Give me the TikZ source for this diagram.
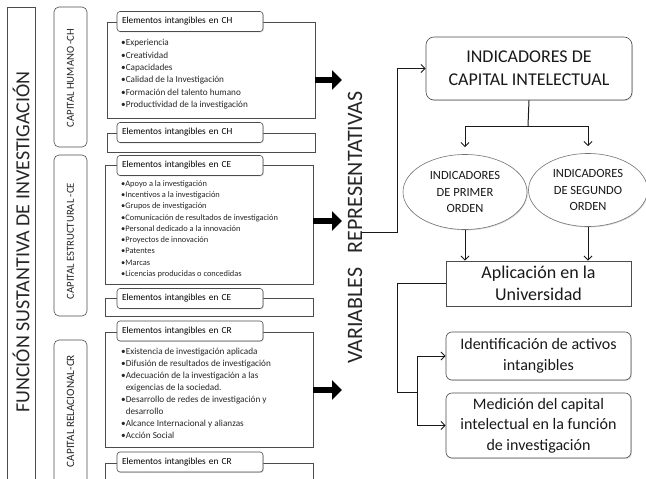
\documentclass[tikz,border=0pt]{standalone}
\usepackage{fontspec}
\setmainfont{Carlito}
\usetikzlibrary{shapes.geometric}
\usetikzlibrary{arrows.meta}
\usetikzlibrary{shadows}
\tikzstyle{frame}=[draw=black!70,line width=0.6pt,inner sep=0pt]
\tikzstyle{softshadow}=[drop shadow={shadow xshift=0.8pt,shadow yshift=-0.9pt,opacity=0.3}]
\tikzstyle{capbox}=[frame,rounded corners=5pt,minimum width=33pt]
\tikzstyle{elembox}=[frame,minimum width=208pt]
\tikzstyle{headbox}=[frame,softshadow,fill=white,rounded corners=3pt,minimum height=20pt,text width=136pt,inner xsep=5pt,align=left,font=\fontsize{9.3}{11}\selectfont]
\tikzstyle{itemlist}=[anchor=north west,align=left,inner sep=0pt,text=black!85]
\tikzstyle{sidelabel}=[rotate=90,inner sep=0pt,text=black!85]
\tikzstyle{bigarrow}=[line width=6.5pt,-{Triangle[length=10pt,width=19pt]}]
\tikzstyle{conn}=[line width=1pt,black!90]
\tikzstyle{arrowed}=[-{Straight Barb[length=4pt,width=8pt]}]
\tikzstyle{indbox}=[frame,softshadow,fill=white,align=center,text=black!90]

\begin{document}
\begin{tikzpicture}[x=1pt,y=-1pt]
\useasboundingbox (0,0) rectangle (646,479);
% left column
\node[frame,minimum width=28pt,minimum height=488pt] (func) at (21,251) {};
\node[sidelabel,font=\fontsize{20}{22}\selectfont] (funclab) at (21,242) {FUNCIÓN SUSTANTIVA DE INVESTIGACIÓN};

\node[capbox,minimum height=140pt] (chcap) at (70.5,77) {};
\node[capbox,minimum height=161pt] (cecap) at (70.5,235.5) {};
\node[capbox,minimum height=160pt] (crcap) at (70.5,420) {};
\node[sidelabel,font=\fontsize{10.7}{12}\selectfont] (chlab) at (70.5,78) {CAPITAL HUMANO -CH};
\node[sidelabel,font=\fontsize{10.7}{12}\selectfont] (celab) at (70.5,241) {CAPITAL ESTRUCTURAL -CE};
\node[sidelabel,font=\fontsize{11.2}{12}\selectfont] (crlab) at (70.5,411) {CAPITAL RELACIONAL-CR};

% element boxes
\node[elembox,minimum height=96pt] (chbox) at (211,70) {};
\node[headbox] (chhead) at (190,21.5) {Elementos intangibles en CH};
\node[itemlist,font=\fontsize{9.2}{12.3}\selectfont] (chlist) at (121,39.3) {•Experiencia\\•Creatividad\\•Capacidades\\•Calidad de la Investigación\\•Formación del talento humano\\•Productividad de la investigación};
\node[elembox,minimum height=19pt] (chbox2) at (211,142.5) {};
\node[headbox] (chhead2) at (190,132.5) {Elementos intangibles en CH};

\node[elembox,minimum height=119pt] (cebox) at (209,224.5) {};
\node[headbox] (cehead) at (190,165.5) {Elementos intangibles en CE};
\node[itemlist,font=\fontsize{8.4}{11.25}\selectfont] (celist) at (121,180.3) {•Apoyo a la investigación\\•Incentivos a la investigación\\•Grupos de investigación\\•Comunicación de resultados de investigación\\•Personal dedicado a la innovación\\•Proyectos de innovación\\•Patentes\\•Marcas\\•Licencias producidas o concedidas};
\node[elembox,minimum height=18pt] (cebox2) at (209,307) {};
\node[headbox] (cehead2) at (190,298.5) {Elementos intangibles en CE};

\node[elembox,minimum height=115pt] (crbox) at (209,389.5) {};
\node[headbox] (crhead) at (190,331) {Elementos intangibles en CR};
\node[itemlist,font=\fontsize{9.2}{11.9}\selectfont] (crlist) at (121,348.3) {•Existencia de investigación aplicada\\•Difusión de resultados de investigación\\•Adecuación de la investigación a las\\\phantom{•}exigencias de la sociedad.\\•Desarrollo de redes de investigación y\\\phantom{•}desarrollo\\•Alcance Internacional y alianzas\\•Acción Social};
\node[elembox,minimum height=37pt] (crbox2) at (209,481.5) {};
\node[headbox] (crhead2) at (190,462) {Elementos intangibles en CR};

% thick arrows
\coordinate (chtip) at (342,80);
\coordinate (cetip) at (342,221);
\coordinate (crtip) at (342,390);
\draw[bigarrow] (chbox.east |- chtip) -- (chtip);
\draw[bigarrow] (cebox.east |- cetip) -- (cetip);
\draw[bigarrow] (crbox.east |- crtip) -- (crtip);

\node[sidelabel,font=\fontsize{22}{24}\selectfont] (var) at (355,227.5) {VARIABLES\hspace{14pt}REPRESENTATIVAS};

% indicators
\node[indbox,rounded corners=8pt,minimum width=206pt,minimum height=63pt,font=\fontsize{18}{23}\selectfont] (ici) at (529,68.5) {INDICADORES DE\\CAPITAL INTELECTUAL};
\node[indbox,ellipse,draw=black!55,minimum width=124pt,minimum height=75pt,font=\fontsize{12.5}{16.7}\selectfont] (ind1) at (465,192) {INDICADORES\\DE PRIMER\\ORDEN};
\node[indbox,ellipse,draw=black!55,minimum width=119pt,minimum height=73pt,font=\fontsize{12.5}{16.7}\selectfont] (ind2) at (588,190) {INDICADORES\\DE SEGUNDO\\ORDEN};
\node[indbox,minimum width=185pt,minimum height=45pt,font=\fontsize{18}{22}\selectfont] (apl) at (538.5,283.5) {Aplicación en la\\Universidad};
\node[indbox,rounded corners=6pt,minimum width=185pt,minimum height=48pt,font=\fontsize{16}{21}\selectfont] (ident) at (538.5,356) {Identificación de activos\\intangibles};
\node[indbox,rounded corners=6pt,minimum width=185pt,minimum height=65pt,font=\fontsize{16}{20.5}\selectfont] (medic) at (538.5,425.5) {Medición del capital\\intelectual en la función\\de investigación};

% connectors
\coordinate (varout) at (362,232);
\coordinate (bend) at (397,232);
\coordinate (split) at (528,126);
\coordinate (fork) at (417,392);
\draw[conn,arrowed] (varout) -- (bend) |- (ici.west);
\draw[conn] (ici.south) -- (split);
\draw[conn,arrowed] (split) -| ([yshift=7pt]ind1.north);
\draw[conn,arrowed] (split) -| ([yshift=7pt]ind2.north);
\draw[conn,arrowed] (ind1.south) -- (ind1.south |- apl.north);
\draw[conn,arrowed] (ind2.south) -- (ind2.south |- apl.north);
\draw[conn] (apl.west) -| (bend |- fork) -- (fork);
\draw[conn,arrowed] (fork) |- (ident.west);
\draw[conn,arrowed] (fork) |- (medic.west);
\end{tikzpicture}
\end{document}
